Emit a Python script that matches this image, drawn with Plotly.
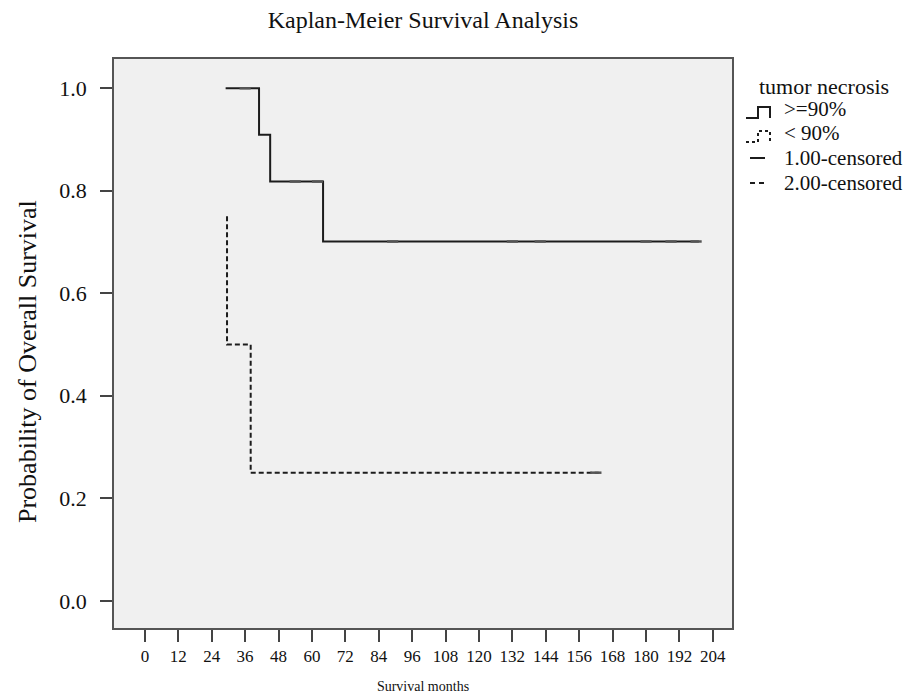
import plotly.graph_objects as go

# ---------------- data ----------------
g1_times = [29, 41, 45, 64, 199]
g1_surv = [1.0, 0.909, 0.818, 0.701, 0.701]
g1_cens = [36, 54, 62, 89, 132, 142, 180, 189, 198]

g2_times = [29.5, 29.5, 38, 163]
g2_surv = [0.75, 0.5, 0.25, 0.25]
g2_cens = [162]

x_ticks = list(range(0, 205, 12))
y_ticks = [0.0, 0.2, 0.4, 0.6, 0.8, 1.0]
y_ticktext = ["0.0", "0.2", "0.4", "0.6", "0.8", "1.0"]

chart_title = "Kaplan-Meier Survival Analysis"
x_title = "Survival months"
y_title = "Probability of Overall Survival"
legend_title = "tumor necrosis"
legend_labels = [">=90%", "< 90%", "1.00-censored", "2.00-censored"]


def step_value(times, surv, t):
    v = surv[0]
    for tt, s in zip(times, surv):
        if tt <= t:
            v = s
    return v


# ---------------- layout geometry ----------------
OFF = 8  # page body margin
W, H = 920 - OFF, 695 - OFF
# plot box in screenshot pixels: x 114..732, y 59..628
BX0, BX1, BY0, BY1 = 114, 732, 59, 628
ML, MT = BX0 - OFF, BY0 - OFF
MR, MB = W - (BX1 - OFF), H - (BY1 - OFF)
PW, PH = W - ML - MR, H - MT - MB
FONT = "Liberation Serif"
INK = "#1c1c1c"


def px(x):  # screenshot pixel -> paper
    return (x - BX0) / PW


def py(y):
    return 1 - (y - BY0) / PH


fig = go.Figure()

fig.add_trace(go.Scatter(
    x=g1_times, y=g1_surv, mode="lines", line_shape="hv",
    line=dict(color=INK, width=2), name=legend_labels[0], showlegend=False,
))
fig.add_trace(go.Scatter(
    x=g2_times, y=g2_surv, mode="lines", line_shape="hv",
    line=dict(color=INK, width=2, dash="5px,3px"), name=legend_labels[1], showlegend=False,
))
fig.add_trace(go.Scatter(
    x=g1_cens, y=[step_value(g1_times, g1_surv, t) for t in g1_cens], mode="markers",
    marker=dict(symbol="line-ew", size=8, line=dict(color="#555", width=2.5)),
    name=legend_labels[2], showlegend=False,
))
fig.add_trace(go.Scatter(
    x=g2_cens, y=[step_value(g2_times, g2_surv, t) for t in g2_cens], mode="markers",
    marker=dict(symbol="line-ew", size=8, line=dict(color="#555", width=2.5)),
    name=legend_labels[3], showlegend=False,
))

# ---------------- manual legend & axis title ----------------
annotations = []
shapes = []
annotations.append(dict(xref="paper", yref="paper", x=px(757), y=py(87), text=legend_title,
                        showarrow=False, xanchor="left", yanchor="middle",
                        font=dict(family=FONT, size=22, color="#111")))
item_y = [109, 133, 158, 183]
for lab, cy in zip(legend_labels, item_y):
    annotations.append(dict(xref="paper", yref="paper", x=px(782), y=py(cy), text=lab,
                            showarrow=False, xanchor="left", yanchor="middle",
                            font=dict(family=FONT, size=21, color="#111")))
annotations.append(dict(xref="paper", yref="paper", x=px(27), y=py(362), text=y_title,
                        textangle=-90, showarrow=False, xanchor="center", yanchor="middle",
                        font=dict(family=FONT, size=26, color="#111")))


def glyph_path(cy):
    pts = [(746, cy + 9), (758, cy + 9), (758, cy - 2), (770, cy - 2), (770, cy + 9)]
    return "M " + " L ".join(f"{px(a)},{py(b)}" for a, b in pts)


shapes.append(dict(type="path", xref="paper", yref="paper", path=glyph_path(item_y[0]),
                   line=dict(color=INK, width=2)))
shapes.append(dict(type="path", xref="paper", yref="paper", path=glyph_path(item_y[1]),
                   line=dict(color=INK, width=2, dash="3px,3px")))
shapes.append(dict(type="line", xref="paper", yref="paper", x0=px(750), x1=px(765),
                   y0=py(item_y[2]), y1=py(item_y[2]), line=dict(color=INK, width=2)))
shapes.append(dict(type="line", xref="paper", yref="paper", x0=px(750), x1=px(767),
                   y0=py(item_y[3]), y1=py(item_y[3]), line=dict(color=INK, width=2, dash="5px,4px")))

fig.update_layout(
    width=W, height=H,
    margin=dict(l=ML, r=MR, t=MT, b=MB, autoexpand=False),
    paper_bgcolor="white", plot_bgcolor="#f0f0f0",
    font=dict(family=FONT, color="#111"),
    title=dict(text=chart_title, x=0.5, xref="paper", xanchor="center",
               y=1 - (20 - OFF) / H, yref="container", yanchor="middle",
               font=dict(family=FONT, size=24, color="#111")),
    annotations=annotations, shapes=shapes,
    showlegend=False,
)
fig.update_xaxes(
    range=[-11.1, 210.9], tickvals=x_ticks, ticktext=[str(v) for v in x_ticks],
    ticks="outside", ticklen=12, tickwidth=1.5, tickcolor="#444",
    showline=True, mirror=True, linecolor="#555", linewidth=1.5,
    showgrid=False, zeroline=False,
    tickfont=dict(family=FONT, size=17, color="#111"),
    title=dict(text=x_title, font=dict(family=FONT, size=14, color="#111"), standoff=16),
    automargin=False,
)
fig.update_yaxes(
    range=[-0.053, 1.057], tickvals=y_ticks, ticktext=y_ticktext,
    ticks="outside", ticklen=12, tickwidth=1.5, tickcolor="#444",
    showline=True, mirror=True, linecolor="#555", linewidth=1.5,
    showgrid=False, zeroline=False, ticklabelstandoff=9,
    tickfont=dict(family=FONT, size=22, color="#111"),
    automargin=False,
)

fig.write_html("out.html")
